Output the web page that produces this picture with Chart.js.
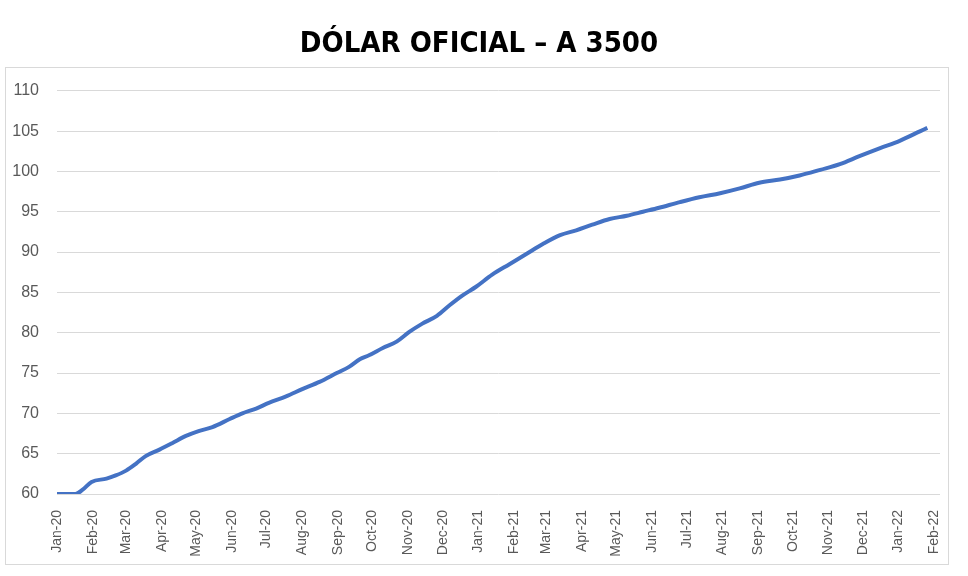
<!DOCTYPE html>
<html>
<head>
<meta charset="utf-8">
<script src="https://cdn.jsdelivr.net/npm/chart.js@4"></script>
<style>
  html, body { margin: 0; padding: 0; background: #fff; }
  #wrap { width: 968px; height: 576px; }
</style>
</head>
<body>
<div id="wrap"><canvas id="dolar"></canvas></div>
<script>
// Month axis labels (first day of each month, Jan-20 .. Feb-22)
const monthLabels = ["Jan-20", "Feb-20", "Mar-20", "Apr-20", "May-20", "Jun-20", "Jul-20", "Aug-20",
    "Sep-20", "Oct-20", "Nov-20", "Dec-20", "Jan-21", "Feb-21", "Mar-21", "Apr-21", "May-21",
    "Jun-21", "Jul-21", "Aug-21", "Sep-21", "Oct-21", "Nov-21", "Dec-21", "Jan-22", "Feb-22"];
const monthStarts = ["2020-01-01", "2020-02-01", "2020-03-01", "2020-04-01", "2020-05-01", "2020-06-01",
    "2020-07-01", "2020-08-01", "2020-09-01", "2020-10-01", "2020-11-01", "2020-12-01",
    "2021-01-01", "2021-02-01", "2021-03-01", "2021-04-01", "2021-05-01", "2021-06-01",
    "2021-07-01", "2021-08-01", "2021-09-01", "2021-10-01", "2021-11-01", "2021-12-01",
    "2022-01-01", "2022-02-01"];

// Series
const dates = ["2020-01-01", "2020-01-17", "2020-01-23", "2020-01-31", "2020-02-13", "2020-02-21",
    "2020-03-01", "2020-03-10", "2020-03-18", "2020-03-30", "2020-04-10", "2020-04-22",
    "2020-05-03", "2020-05-15", "2020-05-30", "2020-06-10", "2020-06-22", "2020-07-03",
    "2020-07-18", "2020-08-01", "2020-08-16", "2020-08-31", "2020-09-11", "2020-09-20",
    "2020-09-28", "2020-10-10", "2020-10-22", "2020-11-02", "2020-11-13", "2020-11-26",
    "2020-12-07", "2020-12-18", "2020-12-30", "2021-01-13", "2021-01-28", "2021-02-12",
    "2021-02-26", "2021-03-13", "2021-03-27", "2021-04-10", "2021-04-25", "2021-05-10",
    "2021-05-24", "2021-06-07", "2021-06-25", "2021-07-12", "2021-07-30", "2021-08-16",
    "2021-09-02", "2021-09-20", "2021-10-07", "2021-10-25", "2021-11-11", "2021-11-28",
    "2021-12-16", "2022-01-02", "2022-01-20", "2022-01-26"];
const values = [60.0, 60.0, 60.5, 61.5, 61.9, 62.3,
    62.9, 63.8, 64.7, 65.5, 66.3, 67.2,
    67.8, 68.3, 69.3, 70.0, 70.6, 71.3,
    72.1, 73.0, 73.9, 75.0, 75.8, 76.7,
    77.2, 78.1, 78.9, 80.1, 81.1, 82.1,
    83.4, 84.6, 85.7, 87.2, 88.5, 89.8,
    91.0, 92.1, 92.7, 93.4, 94.1, 94.5,
    95.0, 95.5, 96.2, 96.8, 97.3, 97.9,
    98.6, 99.0, 99.5, 100.2, 100.9, 101.9,
    102.9, 103.8, 105.0, 105.4];

const yTicks = [60, 65, 70, 75, 80, 85, 90, 95, 100, 105, 110];

// days since 2020-01-01
function dayIndex(s) {
    const p = s.split("-").map(Number);
    return (Date.UTC(p[0], p[1] - 1, p[2]) - Date.UTC(2020, 0, 1)) / 86400000;
}

const points = dates.map((d, i) => ({ x: dayIndex(d), y: values[i] }));
const tickDays = monthStarts.map(dayIndex);

// white background + light frame around the whole chart
const framePlugin = {
    id: "frame",
    afterLayout(chart) {
        // title sits a bit right of the canvas centre, like the original
        if (chart.titleBlock) chart.titleBlock.left = 18;
    },
    beforeDraw(chart) {
        const ctx = chart.ctx;
        ctx.save();
        ctx.fillStyle = "#ffffff";
        ctx.fillRect(0, 0, chart.width, chart.height);
        ctx.strokeStyle = "#d9d9d9";
        ctx.lineWidth = 1;
        ctx.strokeRect(5.5, 67.5, 943, 497);
        ctx.restore();
    }
};

const config = {
    type: "line",
    data: {
        datasets: [{
            label: "A 3500",
            data: points,
            borderColor: "#4472C4",
            borderWidth: 4,
            pointRadius: 0,
            cubicInterpolationMode: "monotone",
            fill: false,
        }],
    },
    options: {
        responsive: false,
        animation: false,
        layout: { padding: { left: 0, right: 28, top: 0, bottom: 0 } },
        scales: {
            x: {
                type: "linear",
                min: 0,
                max: 767,
                afterBuildTicks: (scale) => {
                    scale.ticks = tickDays.map(v => ({ value: v }));
                },
                afterFit: (scale) => { scale.height = 82; },
                grid: { display: false },
                border: { display: false },
                ticks: {
                    autoSkip: false,
                    minRotation: 90,
                    maxRotation: 90,
                    padding: 8,
                    color: "#595959",
                    font: { family: "Liberation Sans", size: 14 },
                    callback: (value, index) => monthLabels[index],
                },
            },
            y: {
                min: 60,
                max: 110,
                afterBuildTicks: (scale) => {
                    scale.ticks = yTicks.map(v => ({ value: v }));
                },
                afterFit: (scale) => { scale.width = 57; },
                grid: { color: "#d9d9d9", drawTicks: false },
                border: { display: false },
                ticks: {
                    padding: 18,
                    color: "#595959",
                    font: { family: "Liberation Sans", size: 16 },
                },
            },
        },
        plugins: {
            legend: { display: false },
            tooltip: { enabled: false },
            title: {
                display: true,
                text: "DÓLAR OFICIAL – A 3500",
                color: "#000000",
                font: { family: "'DejaVu Sans Condensed', 'Liberation Sans Narrow', 'DejaVu Sans'", size: 29, weight: "bold", lineHeight: 1.2 },
                padding: { top: 27, bottom: 29 },
            },
        },
    },
    plugins: [framePlugin],
};

const ctx = document.getElementById("dolar");
ctx.width = 968;
ctx.height = 576;
const myChart = new Chart(ctx, config);
</script>
</body>
</html>
